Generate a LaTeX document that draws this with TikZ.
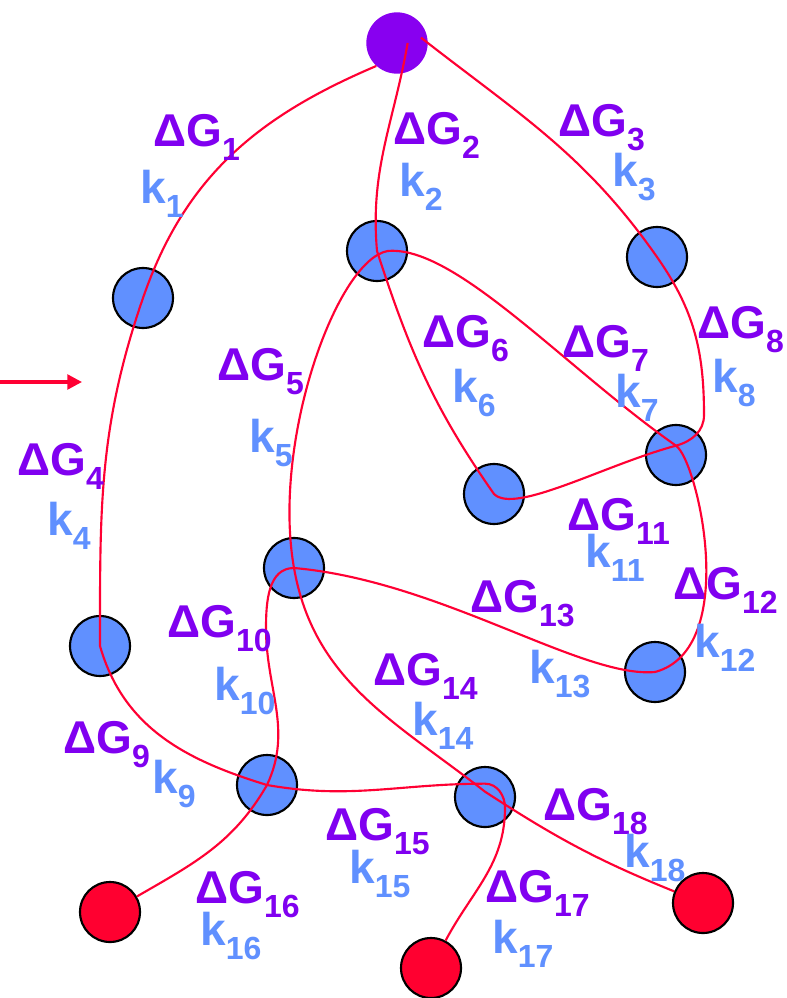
\documentclass[tikz,border=0pt]{standalone}
\usepackage{fontspec}
\setmainfont{Liberation Sans}
\usepackage{xcolor}
\usepackage{tikz}
\usetikzlibrary{arrows.meta}
\definecolor{dgpurple}{HTML}{8000F0}
\definecolor{kblue}{HTML}{6090FF}
\definecolor{startpurple}{HTML}{8800F0}
\definecolor{prodred}{HTML}{FF0030}
\definecolor{linkred}{HTML}{FF0033}
\newcommand{\subsz}{\fontsize{24}{24}\selectfont}
\newcommand{\dG}[1]{ΔG\raisebox{-10.5pt}{\subsz #1}}
\newcommand{\kr}[1]{k\raisebox{-10.5pt}{\subsz #1}}

\begin{document}
\begin{tikzpicture}[
  x=0.75pt,y=0.75pt,
  species/.style={circle,draw=black,line width=1.6pt,fill=kblue,
                  minimum size=45pt,inner sep=0pt},
  source/.style={circle,fill=startpurple,minimum size=46pt,inner sep=0pt},
  product/.style={species,fill=prodred},
  dglab/.style={anchor=base west,inner sep=0pt,text=dgpurple,
                font=\bfseries\fontsize{34.5}{36}\selectfont},
  klab/.style={dglab,text=kblue},
  link/.style={draw=linkred,line width=1.6pt},
  arrowline/.style={-{Triangle[length=11pt,width=11pt]},draw=linkred,line width=2.5pt}
]
  \useasboundingbox (0,0) rectangle (787,-998);

  % species
  \node[source] (start) at (397,-43) {};
  \node[species] (i1) at (143,-298) {};
  \node[species] (i2) at (377,-251) {};
  \node[species] (i3) at (657,-257) {};
  \node[species] (i4) at (676,-455) {};
  \node[species] (i5) at (494,-494) {};
  \node[species] (i6) at (294,-568) {};
  \node[species] (i7) at (100,-646) {};
  \node[species] (i8) at (655,-672) {};
  \node[species] (i9) at (267,-785) {};
  \node[species] (i10) at (485,-797) {};
  \node[product] (p1) at (110,-912) {};
  \node[product] (p2) at (431,-968) {};
  \node[product] (p3) at (703,-903) {};

  % reaction paths
  \draw[link] (start.228) to[out=203,in=71] (i1.center)
    to[out=251,in=90] (i7.center)
    to[out=-74,in=163] (i9.center)
    to[out=-10,in=180] ([yshift=10pt]i10.center)
    to[out=0,in=90] ([shift={(15pt,-8pt)}]i10.center)
    to[out=-90,in=62] (p2);
  \draw[link] ([xshift=8pt]start.center) to[out=260,in=95] (i2.center)
    to[out=-72,in=125] (i5.center)
    to[out=-45,in=195,out looseness=0.4] ([yshift=7pt]i4.center)
    to[out=15,in=-90] ([shift={(21pt,30pt)}]i4.center)
    to[out=90,in=-55] (i3.center)
    to[out=125,in=-38] ([shift={(18pt,4pt)}]start.center);
  \draw[link] (p3) to[out=158,in=-33] ([yshift=4pt]i10.center)
    to[out=142,in=-80] (i6.center)
    to[out=100,in=190,in looseness=0.4] ([xshift=8pt]i2.center)
    to[out=5,in=145,out looseness=0.5] ([yshift=7pt]i4.center)
    to[out=-35,in=15,out looseness=0.3] (i8.center)
    to[out=185,in=-5,out looseness=0.5] (i6.center)
    to[out=180,in=90] ([shift={(-21pt,-45pt)}]i6.center)
    to[out=-90,in=65] (i9.center)
    to[out=240,in=30] (p1);

  % feed arrow
  \coordinate (feedin) at (0,-382);
  \coordinate (feedtip) at (82,-382);
  \draw[arrowline] (feedin) -- (feedtip);

  % labels
  \node[dglab] (g1) at (153,-147) {\dG{1}};   \node[klab] (k1) at (140,-204) {\kr{1}};
  \node[dglab] (g2) at (393,-145) {\dG{2}};   \node[klab] (k2) at (399,-197) {\kr{2}};
  \node[dglab] (g3) at (558,-137) {\dG{3}};   \node[klab] (k3) at (612,-187) {\kr{3}};
  \node[dglab] (g4) at (17,-475) {\dG{4}};    \node[klab] (k4) at (47,-535) {\kr{4}};
  \node[dglab] (g5) at (217,-380) {\dG{5}};   \node[klab] (k5) at (249,-452) {\kr{5}};
  \node[dglab] (g6) at (422,-347) {\dG{6}};   \node[klab] (k6) at (452,-402) {\kr{6}};
  \node[dglab] (g7) at (562,-357) {\dG{7}};   \node[klab] (k7) at (615,-407) {\kr{7}};
  \node[dglab] (g8) at (697,-338) {\dG{8}};   \node[klab] (k8) at (712,-392) {\kr{8}};
  \node[dglab] (g9) at (63,-753) {\dG{9}};    \node[klab] (k9) at (152,-793) {\kr{9}};
  \node[dglab] (g10) at (167,-637) {\dG{10}}; \node[klab] (k10) at (214,-700) {\kr{10}};
  \node[dglab] (g11) at (567,-530) {\dG{11}}; \node[klab] (k11) at (585,-567) {\kr{11}};
  \node[dglab] (g12) at (673,-599) {\dG{12}}; \node[klab] (k12) at (694,-657) {\kr{12}};
  \node[dglab] (g13) at (470,-612) {\dG{13}}; \node[klab] (k13) at (529,-683) {\kr{13}};
  \node[dglab] (g14) at (373,-685) {\dG{14}}; \node[klab] (k14) at (412,-735) {\kr{14}};
  \node[dglab] (g15) at (325,-840) {\dG{15}}; \node[klab] (k15) at (349,-883) {\kr{15}};
  \node[dglab] (g16) at (195,-903) {\dG{16}}; \node[klab] (k16) at (200,-945) {\kr{16}};
  \node[dglab] (g17) at (485,-902) {\dG{17}}; \node[klab] (k17) at (492,-953) {\kr{17}};
  \node[dglab] (g18) at (543,-820) {\dG{18}}; \node[klab] (k18) at (624,-867) {\kr{18}};
\end{tikzpicture}
\end{document}
